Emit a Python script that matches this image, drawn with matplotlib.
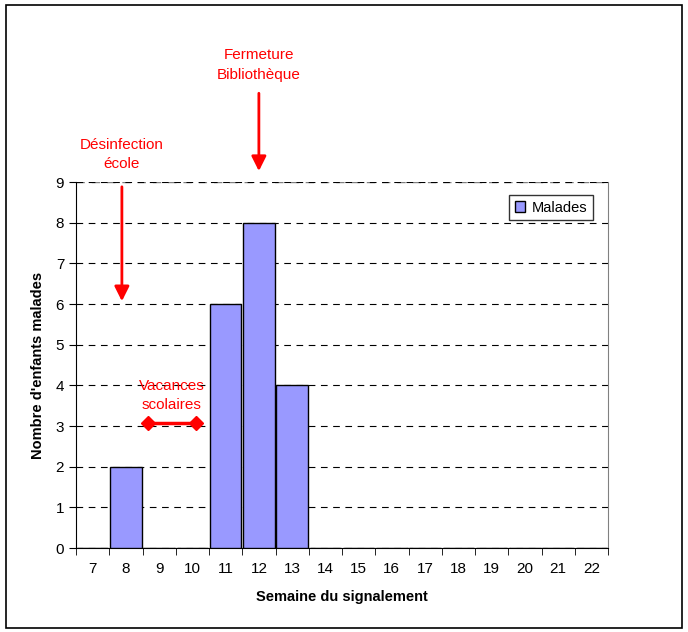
import matplotlib.pyplot as plt
from matplotlib.patches import Rectangle

plt.rcParams['font.family'] = ['Liberation Sans', 'DejaVu Sans']

semaines = list(range(7, 23))
malades = [0, 2, 0, 0, 6, 8, 4, 0, 0, 0, 0, 0, 0, 0, 0, 0]

# annotations (positions in data units)
desinfection_x = 7.88
desinfection_y = [8.95, 6.0]
fermeture_x = 12.0
fermeture_y = [11.25, 9.2]
vacances_x = [8.67, 10.1]
vacances_y = 3.07

fig = plt.figure(figsize=(6.88, 6.32), dpi=100)
fig.patches.append(Rectangle((0.008, 0.006), 0.984, 0.986, transform=fig.transFigure,
                             fill=False, edgecolor='black', linewidth=1.2))
ax = fig.add_axes([76/688, 1 - 548/632, 532/688, 366/632])

ax.bar(semaines, malades, width=0.95, color='#9999FF', edgecolor='black',
       linewidth=1, label='Malades', zorder=3)

ax.set_xlim(6.5, 22.5)
ax.set_ylim(0, 9)
ax.set_yticks(range(0, 10))
ax.set_xticks(semaines)
ax.set_xticks([s + 0.5 for s in range(6, 23)], minor=True)
ax.tick_params(axis='x', which='major', length=0, pad=10, labelsize=11)
ax.tick_params(axis='x', which='minor', length=5, direction='out', color='black')
ax.tick_params(axis='y', length=5, direction='out', labelsize=11)

ax.yaxis.grid(True, linestyle=(0, (6, 5)), color='black', linewidth=0.8, zorder=0)
ax.spines['right'].set_color('#808080')
ax.spines['top'].set_visible(False)
ax.axhline(9, color='#808080', linestyle=(0, (6, 5)), linewidth=1, zorder=1)

ax.set_xlabel('Semaine du signalement', fontsize=10.5, fontweight='bold', labelpad=10)
ax.set_ylabel("Nombre d'enfants malades", fontsize=10.5, fontweight='bold', labelpad=8)

leg = ax.legend(loc='upper right', bbox_to_anchor=(0.985, 0.985), fontsize=10.5,
                frameon=True, fancybox=False, edgecolor='black', handlelength=0.7,
                handleheight=0.7, borderpad=0.4, handletextpad=0.4)
leg.get_frame().set_linewidth(1)

red = '#FF0000'
ann_font = dict(color=red, fontsize=11, ha='center', va='center',
                family=['Liberation Sans Narrow', 'Liberation Sans', 'DejaVu Sans'],
                linespacing=1.5)

ax.annotate('', xy=(desinfection_x, desinfection_y[1]),
            xytext=(desinfection_x, desinfection_y[0]),
            arrowprops=dict(arrowstyle='-|>', color=red, lw=2, mutation_scale=22),
            annotation_clip=False, zorder=5)
ax.text(desinfection_x, 9.68, 'Désinfection\nécole', **ann_font, clip_on=False)

ax.annotate('', xy=(fermeture_x, fermeture_y[1]),
            xytext=(fermeture_x, fermeture_y[0]),
            arrowprops=dict(arrowstyle='-|>', color=red, lw=2, mutation_scale=22),
            annotation_clip=False, zorder=5)
ax.text(fermeture_x, 11.88, 'Fermeture\nBibliothèque', **ann_font, clip_on=False)

ax.plot(vacances_x, [vacances_y, vacances_y], color=red, lw=2.5, marker='D',
        markersize=7, zorder=5)
ax.text(sum(vacances_x) / 2, 3.75, 'Vacances\nscolaires', **ann_font, zorder=6)

fig.savefig('out.png', dpi=100)
